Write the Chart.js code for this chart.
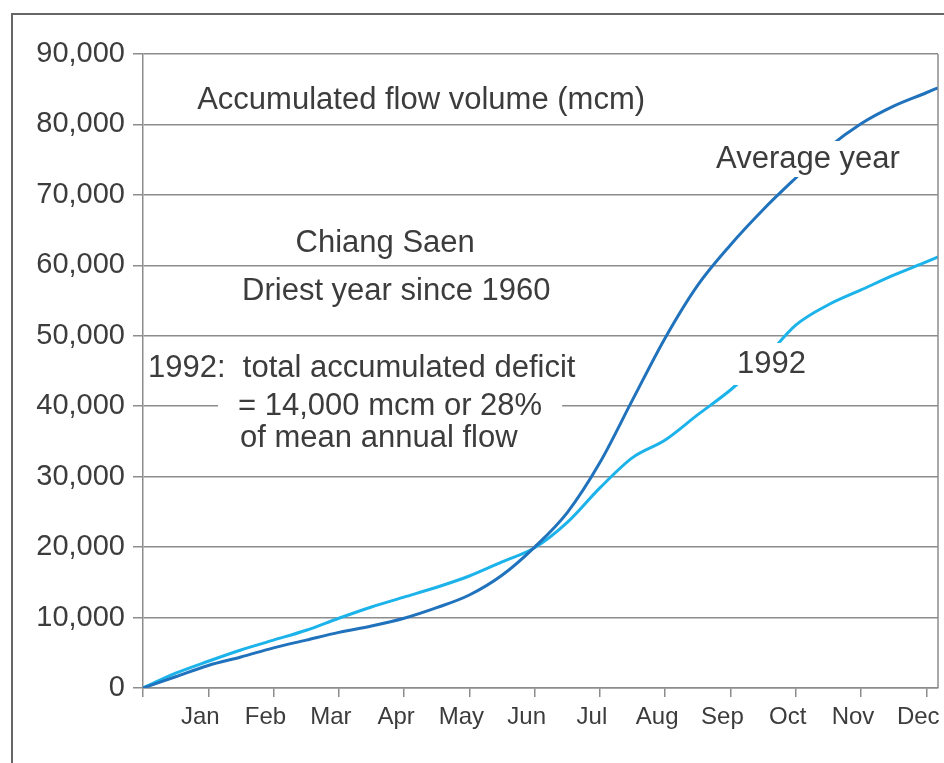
<!DOCTYPE html>
<html>
<head>
<meta charset="utf-8">
<script src="https://cdn.jsdelivr.net/npm/chart.js@4.4.1/dist/chart.umd.min.js"></script>
<style>
  body { margin: 0; background: #fff; overflow: hidden; }
  #frame { position: absolute; left: 11px; top: 13px; width: 1000px; height: 800px; border: 2px solid #666; }
  #wrap { position: absolute; left: 0; top: 0; width: 944px; height: 763px; }
</style>
</head>
<body>
<div id="frame"></div>
<div id="wrap"><canvas id="flowChart" width="944" height="763"></canvas></div>
<script>
// month ends (0 = start of Jan)
const months = ['Jan', 'Feb', 'Mar', 'Apr', 'May', 'Jun', 'Jul', 'Aug', 'Sep', 'Oct', 'Nov', 'Dec'];
const monthPos = [0, 0.5, 1, 1.5, 2, 2.5, 3, 3.5, 4, 4.5, 5, 5.5, 6, 6.5, 7, 7.5, 8, 8.5, 9, 9.5, 10, 10.5, 11, 11.5, 12, 12.18];
// accumulated flow volume (mcm)
const averageYear = [0, 1600, 3200, 4400, 5700, 6800, 7900, 8800, 9900, 11400, 13200, 16000, 20000, 24900, 32000, 40900, 49700, 57200, 62900, 67900, 72400, 76700, 80100, 82600, 84500, 85200];
const year1992 = [0, 2100, 3800, 5400, 6800, 8200, 9900, 11500, 12900, 14300, 15900, 17900, 19900, 23500, 28400, 32700, 35200, 38800, 42300, 46500, 51500, 54400, 56500, 58600, 60500, 61200];
const yTicks = [0, 10000, 20000, 30000, 40000, 50000, 60000, 70000, 80000, 90000];

// text notes on the plot: x in months, y in mcm
const notes = [
  { text: 'Accumulated flow volume (mcm)', x: 0.83, y: 83600, align: 'left' },
  { text: 'Average year', x: 8.78, y: 75240, align: 'left', bg: true, padX: 4, padY: 2 },
  { text: 'Chiang Saen', x: 3.71, y: 63300, align: 'center' },
  { text: 'Driest year since 1960', x: 3.88, y: 56500, align: 'center' },
  { text: '1992:  total accumulated deficit', x: 0.077, y: 45570, align: 'left' },
  { text: '= 14,000 mcm or 28%', x: 1.456, y: 40180, align: 'left', bg: true, padX: 20, padY: 2 },
  { text: 'of mean annual flow', x: 1.487, y: 35630, align: 'left' },
  { text: '1992', x: 9.10, y: 46140, align: 'left', bg: true, padX: 5, padY: 5 }
];

const textColor = '#3c3c3c';
const gridColor = '#8c8c8c';

const notesPlugin = {
  id: 'notes',
  afterDatasetsDraw(chart) {
    const { ctx, chartArea, scales } = chart;
    ctx.save();
    // right edge of plot
    ctx.strokeStyle = gridColor;
    ctx.lineWidth = 1.5;
    ctx.beginPath();
    ctx.moveTo(chartArea.right, chartArea.top);
    ctx.lineTo(chartArea.right, chartArea.bottom);
    ctx.stroke();

    ctx.font = '31px "Liberation Sans", Arial, sans-serif';
    ctx.textBaseline = 'middle';
    notes.forEach(n => {
      const px = scales.x.getPixelForValue(n.x);
      const py = scales.y.getPixelForValue(n.y);
      const w = ctx.measureText(n.text).width;
      const left = n.align === 'center' ? px - w / 2 : px;
      if (n.bg) {
        ctx.fillStyle = '#fff';
        ctx.fillRect(left - n.padX, py - 15 - n.padY, w + n.padX * 2, 32 + n.padY * 2);
      }
      ctx.fillStyle = textColor;
      ctx.textAlign = 'left';
      ctx.fillText(n.text, left, py + 1);
    });
    ctx.restore();
  }
};

const ctx = document.getElementById('flowChart').getContext('2d');
new Chart(ctx, {
  type: 'line',
  data: {
    datasets: [{
      label: 'Average year',
      data: monthPos.map((m, i) => ({ x: m, y: averageYear[i] })),
      borderColor: '#1f72bb',
      borderWidth: 3,
      pointRadius: 0,
      cubicInterpolationMode: 'monotone'
    }, {
      label: '1992',
      data: monthPos.map((m, i) => ({ x: m, y: year1992[i] })),
      borderColor: '#1cb3ea',
      borderWidth: 3,
      pointRadius: 0,
      cubicInterpolationMode: 'monotone'
    }]
  },
  options: {
    responsive: false,
    animation: false,
    layout: { padding: { left: 0, top: 54, right: 6, bottom: 0 } },
    plugins: {
      legend: { display: false },
      tooltip: { enabled: false }
    },
    scales: {
      x: {
        type: 'linear',
        min: 0,
        max: 12.18,
        afterBuildTicks: s => { s.ticks = [0, ...months.map((m, i) => i + 1)].map(v => ({ value: v })); },
        afterFit: s => { s.height = 75; s.paddingRight = 0; s.paddingLeft = 0; },
        grid: { drawOnChartArea: false, color: gridColor, lineWidth: 1.5, tickLength: 9 },
        border: { color: gridColor, width: 1.5 },
        ticks: {
          autoSkip: false,
          maxRotation: 0,
          labelOffset: -8,
          padding: 6,
          color: textColor,
          font: { family: '"Liberation Sans", Arial, sans-serif', size: 24 },
          callback: v => v >= 1 ? months[v - 1] : ''
        }
      },
      y: {
        min: 0,
        max: 90000,
        afterBuildTicks: s => { s.ticks = yTicks.map(v => ({ value: v })); },
        afterFit: s => { s.width = 143; },
        grid: { color: gridColor, lineWidth: 1.5, tickLength: 10 },
        border: { color: gridColor, width: 1.5 },
        ticks: {
          padding: 8,
          color: textColor,
          font: { family: '"Liberation Sans", Arial, sans-serif', size: 29 },
          callback: v => v.toLocaleString('en-US')
        }
      }
    }
  },
  plugins: [notesPlugin]
});
</script>
</body>
</html>
